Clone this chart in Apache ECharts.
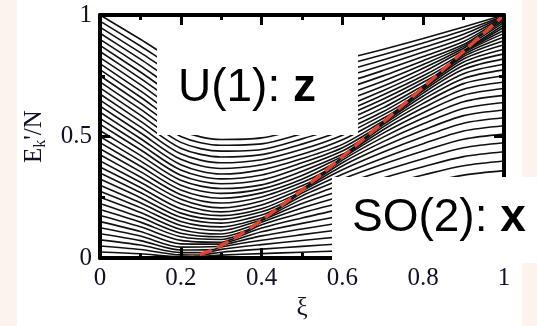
<!DOCTYPE html>
<html>
<head>
<meta charset="utf-8">
<script src="https://cdn.jsdelivr.net/npm/echarts@6/dist/echarts.min.js"></script>
<style>
  html, body { margin: 0; padding: 0; background: #fcf3ee; }
  #chart {
    width: 537px; height: 326px;
    background: linear-gradient(to right, #fcf3ee 0, #fcf3ee 17px, #ffffff 17px, #ffffff 522px, #fcf3ee 522px);
  }
</style>
</head>
<body>
<div id="chart"></div>
<script>
const xiGrid = [0, 0.1, 0.2, 0.3, 0.4, 0.5, 0.6, 0.7, 0.8, 0.9, 1.0];

// E'_k/N of each level at xiGrid (lowest level first)
const levelEnergies = [
  [0.025, 0.0176, 0.0051, 0.0122, 0.0185, 0.0242, 0.0296, 0.0348, 0.0399, 0.045, 0.0494],
  [0.05, 0.0355, 0.0131, 0.0243, 0.037, 0.0484, 0.0591, 0.0695, 0.0796, 0.0893, 0.0975],
  [0.075, 0.0536, 0.0226, 0.0359, 0.0555, 0.0724, 0.0885, 0.104, 0.119, 0.1333, 0.1444],
  [0.1, 0.072, 0.0333, 0.0458, 0.0736, 0.0964, 0.1177, 0.1382, 0.158, 0.1767, 0.19],
  [0.125, 0.0906, 0.045, 0.0517, 0.0913, 0.1199, 0.1465, 0.1719, 0.1963, 0.2192, 0.2344],
  [0.15, 0.1095, 0.0585, 0.0575, 0.108, 0.1429, 0.1748, 0.2051, 0.2341, 0.2609, 0.2775],
  [0.175, 0.1286, 0.073, 0.0652, 0.1234, 0.1652, 0.2024, 0.2376, 0.271, 0.3017, 0.3194],
  [0.2, 0.148, 0.0875, 0.0767, 0.1367, 0.1865, 0.2293, 0.2693, 0.307, 0.3413, 0.36],
  [0.225, 0.1676, 0.1026, 0.0878, 0.1473, 0.2065, 0.2552, 0.3001, 0.342, 0.38, 0.3994],
  [0.25, 0.1875, 0.118, 0.0989, 0.1541, 0.2249, 0.28, 0.3299, 0.3761, 0.4175, 0.4375],
  [0.275, 0.2076, 0.134, 0.1131, 0.157, 0.2415, 0.3033, 0.3583, 0.4089, 0.4539, 0.4744],
  [0.3, 0.228, 0.151, 0.1285, 0.1653, 0.2557, 0.3251, 0.3856, 0.4405, 0.4889, 0.51],
  [0.325, 0.2486, 0.168, 0.144, 0.1776, 0.2673, 0.3452, 0.4112, 0.4707, 0.5227, 0.5444],
  [0.35, 0.2695, 0.185, 0.1594, 0.1903, 0.2756, 0.3633, 0.4354, 0.4991, 0.5551, 0.5775],
  [0.375, 0.2906, 0.203, 0.1748, 0.2029, 0.2804, 0.3791, 0.4578, 0.5266, 0.586, 0.6094],
  [0.4, 0.312, 0.224, 0.1902, 0.2186, 0.285, 0.3925, 0.4782, 0.5522, 0.6155, 0.64],
  [0.425, 0.3336, 0.2423, 0.2068, 0.2351, 0.2975, 0.4031, 0.4967, 0.5761, 0.6435, 0.6694],
  [0.45, 0.3555, 0.261, 0.2266, 0.2517, 0.311, 0.411, 0.513, 0.598, 0.6698, 0.6975],
  [0.475, 0.3776, 0.2803, 0.2465, 0.2682, 0.3245, 0.4155, 0.5271, 0.6182, 0.6946, 0.7244],
  [0.5, 0.4, 0.3, 0.2663, 0.2848, 0.34, 0.4185, 0.5387, 0.6365, 0.7177, 0.75],
  [0.525, 0.4226, 0.3203, 0.2862, 0.3013, 0.3574, 0.427, 0.5477, 0.6529, 0.7391, 0.7744],
  [0.55, 0.4455, 0.341, 0.306, 0.3211, 0.3747, 0.4405, 0.5539, 0.667, 0.7587, 0.7975],
  [0.575, 0.4686, 0.3623, 0.3259, 0.342, 0.3921, 0.4541, 0.5573, 0.6788, 0.7766, 0.8194],
  [0.6, 0.492, 0.384, 0.3457, 0.363, 0.4094, 0.4678, 0.562, 0.6884, 0.7926, 0.84],
  [0.625, 0.5156, 0.4063, 0.3683, 0.3839, 0.4268, 0.4868, 0.5741, 0.6957, 0.8067, 0.8594],
  [0.65, 0.5395, 0.429, 0.3922, 0.4049, 0.4474, 0.5058, 0.588, 0.7006, 0.819, 0.8775],
  [0.675, 0.5636, 0.4523, 0.4161, 0.4258, 0.4689, 0.5248, 0.6019, 0.7029, 0.8293, 0.8944],
  [0.7, 0.588, 0.476, 0.44, 0.4468, 0.4905, 0.5439, 0.6179, 0.7095, 0.8377, 0.91],
  [0.725, 0.6126, 0.5003, 0.464, 0.4698, 0.512, 0.5629, 0.6357, 0.7231, 0.8441, 0.9244],
  [0.75, 0.6375, 0.525, 0.4879, 0.4945, 0.5336, 0.5819, 0.6534, 0.7365, 0.8482, 0.9375],
  [0.775, 0.6626, 0.5503, 0.5118, 0.5192, 0.5551, 0.6009, 0.6711, 0.7498, 0.8504, 0.9494],
  [0.8, 0.688, 0.576, 0.5357, 0.5438, 0.5767, 0.6209, 0.6888, 0.765, 0.855, 0.96],
  [0.825, 0.7136, 0.6023, 0.5607, 0.5685, 0.6015, 0.6454, 0.7066, 0.7808, 0.8635, 0.9694],
  [0.85, 0.7395, 0.629, 0.5881, 0.5932, 0.6272, 0.6699, 0.7279, 0.7965, 0.8709, 0.9775],
  [0.875, 0.7656, 0.6563, 0.6154, 0.6191, 0.6528, 0.6944, 0.7496, 0.8123, 0.8783, 0.9844],
  [0.9, 0.792, 0.684, 0.6427, 0.6465, 0.6785, 0.7189, 0.7713, 0.8289, 0.8906, 0.99],
  [0.925, 0.8186, 0.7123, 0.67, 0.6739, 0.7041, 0.7434, 0.793, 0.8475, 0.9057, 0.9944],
  [0.95, 0.8455, 0.741, 0.6974, 0.7013, 0.7298, 0.7679, 0.8146, 0.866, 0.9208, 0.9975],
  [0.975, 0.8726, 0.7703, 0.7247, 0.7286, 0.7554, 0.7924, 0.8363, 0.8845, 0.9359, 0.9994],
  [1, 0.9, 0.8, 0.752, 0.756, 0.781, 0.817, 0.858, 0.903, 0.951, 1]
];

// where each level meets the dashed line (the top level never does)
const crossXi = [0.227, 0.245, 0.262, 0.279, 0.295, 0.312, 0.329, 0.347, 0.365, 0.383,
  0.402, 0.423, 0.443, 0.464, 0.486, 0.508, 0.532, 0.556, 0.58, 0.605,
  0.631, 0.657, 0.683, 0.71, 0.736, 0.763, 0.789, 0.815, 0.84, 0.864,
  0.887, 0.909, 0.928, 0.947, 0.961, 0.975, 0.986, 0.992, 0.996];
const crossE = [0.005, 0.013, 0.023, 0.035, 0.048, 0.063, 0.079, 0.097, 0.116, 0.137,
  0.159, 0.184, 0.208, 0.235, 0.263, 0.293, 0.324, 0.356, 0.39, 0.424,
  0.46, 0.497, 0.534, 0.572, 0.611, 0.649, 0.688, 0.725, 0.763, 0.798,
  0.832, 0.863, 0.892, 0.92, 0.942, 0.963, 0.979, 0.988, 0.994];

// red dashed curve
const redXi = [0.2, 0.225, 0.25, 0.275, 0.3, 0.35, 0.4, 0.45, 0.5, 0.55, 0.6, 0.65, 0.7, 0.75, 0.8, 0.85, 0.9, 0.95, 1.0];
const redE = [0, 0.004, 0.016, 0.032, 0.052, 0.1, 0.156, 0.217, 0.281, 0.348, 0.417, 0.487, 0.558, 0.63, 0.703, 0.777, 0.851, 0.925, 1.0];

const serif = "'Liberation Serif', 'Times New Roman', serif";
const sans = "'Liberation Sans', Arial, sans-serif";
const labelColor = '#101026';

const chart = echarts.init(document.getElementById('chart'), null, { renderer: 'canvas' });

const levelSeries = levelEnergies.map((row, k) => {
  const pts = xiGrid.map((xi, i) => [xi, row[i]]);
  if (k < crossXi.length) pts.push([crossXi[k], crossE[k]]);
  pts.sort((a, b) => a[0] - b[0]);
  return {
    type: 'line',
    data: pts,
    smooth: 0.3,
    symbol: 'none',
    silent: true,
    lineStyle: { color: '#111', width: 1.6 },
    z: 2
  };
});

const redSeries = {
  type: 'line',
  data: redXi.map((xi, i) => [xi, redE[i]]),
  smooth: 0.3,
  symbol: 'none',
  silent: true,
  lineStyle: { color: '#e5432b', width: 3.5, type: [13, 6] },
  z: 3
};

function frameAxis(pos, extra) {
  return Object.assign({
    type: 'value',
    min: 0,
    max: 1,
    position: pos,
    axisLine: { onZero: false, lineStyle: { color: '#000', width: 4 } },
    axisTick: { inside: true, length: 10, lineStyle: { color: '#000', width: 3 } },
    minorTick: { show: true, splitNumber: 2, length: 5, lineStyle: { color: '#000', width: 3 } },
    splitLine: { show: false },
    axisLabel: { show: false },
    z: 5
  }, extra);
}

const nameRich = {
  a: { fontFamily: serif, fontSize: 25, color: labelColor, lineHeight: 30, verticalAlign: 'middle' },
  s: { fontFamily: serif, fontSize: 16, color: labelColor, lineHeight: 30, verticalAlign: 'bottom' }
};

const option = {
  backgroundColor: 'transparent',
  animation: false,
  grid: { left: 100, right: 33, top: 15, bottom: 64 },
  xAxis: [
    frameAxis('bottom', {
      interval: 0.2,
      name: '{a|ξ}',
      nameLocation: 'middle',
      nameGap: 34,
      nameTextStyle: { fontFamily: serif, fontSize: 26, color: labelColor, rich: nameRich },
      axisLabel: { show: true, fontFamily: serif, fontSize: 25, color: labelColor, margin: 8 }
    }),
    frameAxis('top', { interval: 0.2 })
  ],
  yAxis: [
    frameAxis('left', {
      interval: 0.5,
      name: "{a|E}{s|k}{a|'/N}",
      nameLocation: 'middle',
      nameRotate: 90,
      nameGap: 66,
      nameTextStyle: {
        fontFamily: serif, fontSize: 25, color: labelColor,
        align: 'center', verticalAlign: 'middle', rich: nameRich
      },
      axisLabel: { show: true, fontFamily: serif, fontSize: 25, color: labelColor, margin: 8 }
    }),
    frameAxis('right', { interval: 0.5 })
  ],
  series: levelSeries.concat([redSeries]),
  graphic: [
    { type: 'rect', z: 100, shape: { x: 157, y: 47, width: 201, height: 88 }, style: { fill: '#fff' } },
    {
      type: 'text', z: 101, x: 178, y: 88,
      style: {
        text: '{n|U(1): }{b|z}',
        verticalAlign: 'middle',
        rich: {
          n: { fontFamily: sans, fontSize: 46, fill: '#000' },
          b: { fontFamily: sans, fontSize: 46, fontWeight: 'bold', fill: '#000' }
        }
      }
    },
    { type: 'rect', z: 100, shape: { x: 332, y: 177, width: 205, height: 86 }, style: { fill: '#fff' } },
    {
      type: 'text', z: 101, x: 352, y: 218,
      style: {
        text: '{n|SO(2): }{b|x}',
        verticalAlign: 'middle',
        rich: {
          n: { fontFamily: sans, fontSize: 46, fill: '#000' },
          b: { fontFamily: sans, fontSize: 46, fontWeight: 'bold', fill: '#000' }
        }
      }
    }
  ]
};

chart.setOption(option);
</script>
</body>
</html>
